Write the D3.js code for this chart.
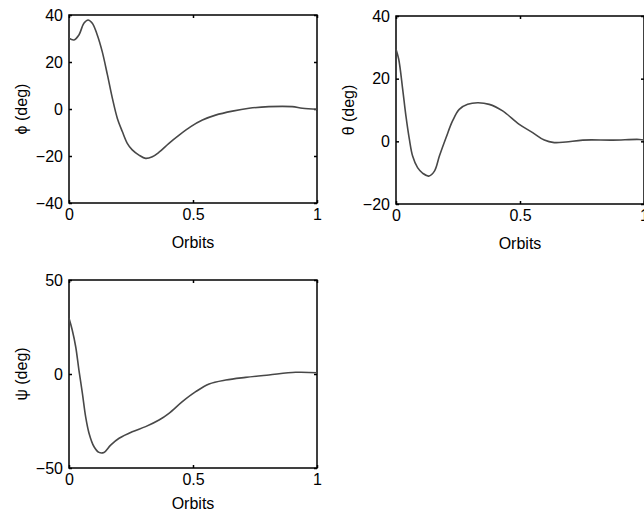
<!DOCTYPE html>
<html>
<head>
<meta charset="utf-8">
<script src="https://cdn.jsdelivr.net/npm/d3@7"></script>
<style>
  body { margin: 0; background: #fff; }
  svg { display: block; font-family: "Liberation Sans", Arial, sans-serif; }
</style>
</head>
<body>
<svg id="chart" width="644" height="515"></svg>
<script>
// orbit fraction and angle values
var phiOrbits = [0, 0.02, 0.04, 0.06, 0.077, 0.094, 0.114, 0.134, 0.155, 0.175, 0.195, 0.215, 0.235, 0.255, 0.282, 0.309, 0.336, 0.363, 0.403, 0.444, 0.491, 0.538, 0.591, 0.659, 0.726, 0.806, 0.9, 0.941, 1];
var phiDeg = [30.1, 29.4, 31.5, 36.5, 37.9, 36.5, 31.5, 24.4, 14.5, 4.5, -4, -9.6, -14.6, -17.4, -19.6, -21, -20.3, -18.4, -14.6, -11.1, -7.5, -4.7, -2.6, -0.9, 0.3, 1, 1, 0.3, -0.1];

var thetaOrbits = [0, 0.011, 0.027, 0.04, 0.054, 0.067, 0.087, 0.108, 0.132, 0.155, 0.175, 0.202, 0.228, 0.255, 0.289, 0.329, 0.376, 0.43, 0.497, 0.551, 0.598, 0.638, 0.685, 0.753, 0.874, 0.981, 1];
var thetaDeg = [29.4, 26.2, 16.6, 8.1, 0.6, -4.7, -8.4, -10.2, -11.1, -9.5, -4.7, 1.2, 6.5, 10.2, 11.8, 12.3, 11.8, 9.7, 5.4, 2.8, 0.4, -0.4, -0.2, 0.4, 0.4, 0.6, 0.4];

var psiOrbits = [0, 0.013, 0.027, 0.04, 0.054, 0.067, 0.081, 0.101, 0.121, 0.141, 0.168, 0.202, 0.255, 0.309, 0.363, 0.403, 0.457, 0.511, 0.565, 0.632, 0.712, 0.806, 0.914, 1];
var psiDeg = [29.6, 23.4, 14.5, 2.1, -10.3, -22.7, -31.6, -38.7, -41.7, -41.7, -37.8, -34.2, -30.7, -28, -24.5, -20.9, -14.7, -9.4, -5.3, -3.2, -1.8, -0.5, 0.9, 0.7];

var xTicks = [0, 0.5, 1];
var xTickLabels = ["0", "0.5", "1"];
var phiTicks = [-40, -20, 0, 20, 40];
var thetaTicks = [-20, 0, 20, 40];
var psiTicks = [-50, 0, 50];

var panels = [
  { x: 69, y: 15, label: "\u03d5 (deg)", xs: phiOrbits, ys: phiDeg, domain: [-40, 40], ticks: phiTicks, titleGap: 45 },
  { x: 396, y: 16, label: "\u03b8 (deg)", xs: thetaOrbits, ys: thetaDeg, domain: [-20, 40], ticks: thetaTicks, titleGap: 45 },
  { x: 69, y: 280, label: "\u03c8 (deg)", xs: psiOrbits, ys: psiDeg, domain: [-50, 50], ticks: psiTicks, titleGap: 41 }
];

var pw = 248, ph = 188, tickLen = 3;
var svg = d3.select('#chart');

panels.forEach(function(p) {
  var g = svg.append('g').attr('transform', 'translate(' + p.x + ',' + p.y + ')');

  var x = d3.scaleLinear().domain([0, 1]).range([0, pw]);
  var y = d3.scaleLinear().domain(p.domain).range([ph, 0]);

  // inward ticks on all four sides, matlab style
  g.append('g')
    .attr('transform', 'translate(0,' + ph + ')')
    .call(d3.axisBottom(x).tickValues(xTicks).tickSize(-tickLen)
      .tickPadding(6).tickFormat(function(d, i) { return xTickLabels[i]; }))
    .call(a => a.select('.domain').remove());
  g.append('g')
    .call(d3.axisTop(x).tickValues(xTicks).tickSize(-tickLen).tickFormat(''))
    .call(a => a.select('.domain').remove());
  g.append('g')
    .call(d3.axisLeft(y).tickValues(p.ticks).tickSize(-tickLen).tickPadding(6))
    .call(a => a.select('.domain').remove());
  g.append('g')
    .attr('transform', 'translate(' + pw + ',0)')
    .call(d3.axisRight(y).tickValues(p.ticks).tickSize(-tickLen).tickFormat(''))
    .call(a => a.select('.domain').remove());

  g.selectAll('.tick line').attr('stroke', '#000').attr('stroke-width', 1.5);
  g.selectAll('.tick text')
    .attr('font-family', '"Liberation Sans", Arial, sans-serif')
    .attr('font-size', 16)
    .attr('fill', '#000');

  g.append('rect')
    .attr('width', pw)
    .attr('height', ph)
    .attr('fill', 'none')
    .attr('stroke', '#000')
    .attr('stroke-width', 1.5);

  var pts = p.xs.map(function(d, i) { return [d, p.ys[i]]; });
  g.append('path')
    .datum(pts)
    .attr('fill', 'none')
    .attr('stroke', '#484848')
    .attr('stroke-width', 1.6)
    .attr('d', d3.line()
      .x(function(d) { return x(d[0]); })
      .y(function(d) { return y(d[1]); })
      .curve(d3.curveCatmullRom));

  g.append('text')
    .attr('x', pw / 2)
    .attr('y', ph + p.titleGap)
    .attr('text-anchor', 'middle')
    .attr('font-size', 16)
    .text('Orbits');

  g.append('text')
    .attr('transform', 'translate(-48,' + (ph / 2) + ') rotate(-90)')
    .attr('text-anchor', 'middle')
    .attr('dominant-baseline', 'central')
    .attr('font-size', 16)
    .text(p.label);
});
</script>
</body>
</html>
